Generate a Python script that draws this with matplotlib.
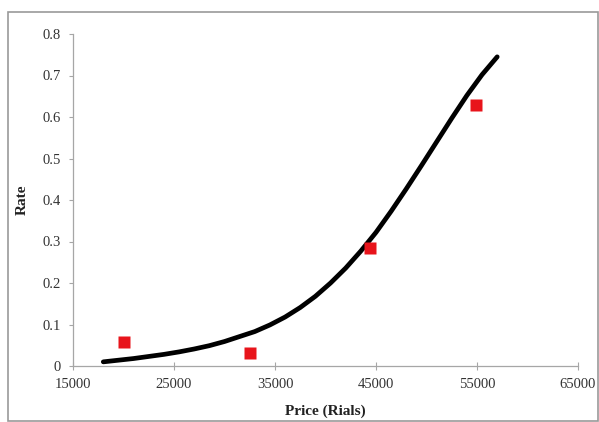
import matplotlib.pyplot as plt
from matplotlib.patches import Rectangle

# fitted curve
curve_price = [18000, 19500, 21000, 22500, 24000, 25500, 27000, 28500, 30000, 31500,
               33000, 34500, 36000, 37500, 39000, 40500, 42000, 43500, 45000, 46500,
               48000, 49500, 51000, 52500, 54000, 55500, 57000]
curve_rate = [0.010, 0.014, 0.018, 0.023, 0.028, 0.034, 0.041, 0.049, 0.059, 0.071,
              0.083, 0.099, 0.118, 0.141, 0.168, 0.200, 0.236, 0.277, 0.322, 0.373,
              0.427, 0.483, 0.540, 0.597, 0.652, 0.702, 0.745]

# observed points
obs_price = [20000, 32500, 44400, 54900]
obs_rate = [0.058, 0.031, 0.285, 0.629]

xticks = [15000, 25000, 35000, 45000, 55000, 65000]
yticks = [0, 0.1, 0.2, 0.3, 0.4, 0.5, 0.6, 0.7, 0.8]

plt.rcParams['font.family'] = ['Liberation Serif', 'DejaVu Serif']

fig = plt.figure(figsize=(5.99, 4.22), dpi=100)
ax = fig.add_axes([73/599, 56/422, 505/599, 332/422])

ax.plot(curve_price, curve_rate, color="black", lw=3.4, solid_capstyle="round",
        solid_joinstyle="round", zorder=2)
ax.plot(obs_price, obs_rate, "s", color="#e8141b", ms=9.3, mec="none", zorder=3)

ax.set_xlim(15000, 65000)
ax.set_ylim(0, 0.8)
ax.set_xticks(xticks)
ax.set_xticklabels([str(t) for t in xticks])
ax.set_yticks(yticks)
ax.set_yticklabels(["0"] + ["%.1f" % t for t in yticks[1:]])

for s in ["top", "right"]:
    ax.spines[s].set_visible(False)
for s in ["left", "bottom"]:
    ax.spines[s].set_color("#a6a6a6")
    ax.spines[s].set_linewidth(0.9)
ax.tick_params(axis="x", direction="inout", length=6, width=0.8, color="#a6a6a6",
               labelsize=10.5, labelcolor="#333333", pad=6)
ax.tick_params(axis="y", direction="out", length=3, width=0.8, color="#a6a6a6",
               labelsize=10.5, labelcolor="#333333", pad=6)

fig.text(22/599, 1 - 200/422, "Rate", rotation=90, ha="center", va="center",
         fontsize=11, fontweight="bold", color="#222222")
fig.text(325/599, 1 - 411/422, "Price (Rials)", ha="center", va="center",
         fontsize=11, fontweight="bold", color="#222222")

# outer frame
fig.patches.append(Rectangle((8/599, 1/422), 590/599, 409/422, transform=fig.transFigure,
                             fill=False, edgecolor="#9a9a9a", lw=1.2))

fig.savefig("out.png", dpi=100)
